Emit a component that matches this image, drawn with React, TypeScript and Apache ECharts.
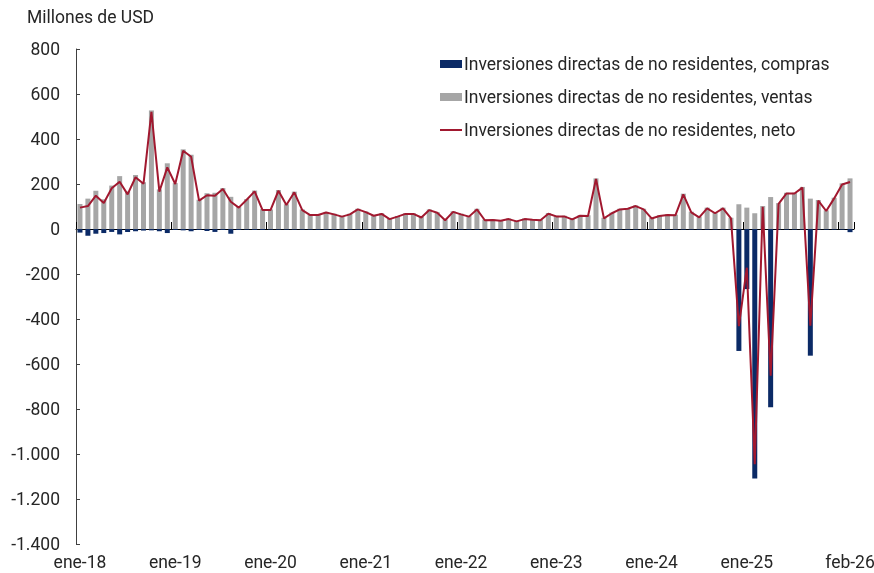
import React, { useEffect, useRef } from "react";
import * as echarts from "echarts";

const MONTHS = ["ene", "feb", "mar", "abr", "may", "jun", "jul", "ago", "sep", "oct", "nov", "dic"];
const START_YEAR = 18;
const N_MONTHS = 98; // ene-18 .. feb-26

const categories: string[] = [];
for (let i = 0; i < N_MONTHS; i++) {
  categories.push(MONTHS[i % 12] + "-" + (START_YEAR + Math.floor(i / 12)));
}

const compras = [
  -16, -30, -21, -18, -13, -24, -13, -10, -7, -6, -10, -18,
  -4, -6, -10, -4, -9, -13, -4, -21, -4, -3, -4, -4,
  -3, -3, -3, -3, -3, -3, -3, -3, -3, -3, -3, -3,
  -3, -3, -3, -3, -3, -3, -3, -3, -3, -3, -3, -3,
  -3, -3, -3, -3, -3, -3, -3, -3, -3, -3, -3, -3,
  -3, -3, -3, -3, -3, -3, -3, -3, -3, -3, -3, -3,
  -3, -3, -3, -3, -3, -3, -3, -3, -3, -3, -3, -542,
  -267, -1109, -3, -792, -3, -3, -3, -3, -563, -3, -3, -3,
  -3, -14,
];

const ventas = [
  111, 135, 170, 132, 193, 235, 167, 240, 208, 527, 176, 292,
  204, 354, 330, 130, 159, 161, 182, 143, 99, 133, 171, 88,
  87, 173, 110, 166, 87, 65, 65, 76, 68, 58, 68, 90,
  78, 62, 70, 47, 58, 70, 70, 54, 87, 75, 42, 79,
  68, 58, 90, 42, 43, 40, 47, 37, 47, 44, 42, 71,
  59, 59, 46, 62, 61, 225, 50, 73, 90, 93, 105, 90,
  50, 61, 65, 64, 157, 77, 55, 95, 73, 95, 50, 110,
  95, 70, 102, 142, 115, 161, 161, 187, 135, 129, 83, 139,
  203, 225,
];

const neto = [
  95, 102, 148, 116, 181, 210, 154, 230, 201, 521, 166, 274,
  200, 348, 321, 126, 150, 148, 178, 121, 95, 130, 167, 84,
  84, 170, 107, 163, 84, 62, 62, 73, 65, 55, 65, 87,
  75, 59, 67, 44, 55, 67, 67, 51, 84, 72, 39, 76,
  65, 55, 87, 39, 40, 37, 44, 34, 44, 41, 39, 68,
  56, 56, 43, 59, 58, 222, 47, 70, 87, 90, 102, 87,
  47, 58, 62, 61, 154, 74, 52, 92, 70, 92, 47, -432,
  -172, -1045, 99, -652, 112, 158, 158, 184, -430, 126, 80, 136,
  198, 209,
];

const SERIES_NAMES = [
  "Inversiones directas de no residentes, compras",
  "Inversiones directas de no residentes, ventas",
  "Inversiones directas de no residentes, neto",
];

const Y_MIN = -1400;
const Y_MAX = 800;
const Y_STEP = 200;

function fmt(v: number): string {
  const s = Math.abs(v).toString().replace(/\B(?=(\d{3})+(?!\d))/g, ".");
  return (v < 0 ? "-" : "") + s;
}

const LINE_ICON = "path://M0,0 L0.01,0 M0,3.1 L22,3.1 L22,4.9 L0,4.9 Z M22,8 L21.99,8";

export default function App() {
  const ref = useRef<HTMLDivElement>(null);
  useEffect(() => {
    if (!ref.current) return;
    const chart = echarts.init(ref.current, undefined, { renderer: "svg" });
    const font = "Roboto";
    const FS = 17.5;
    const LAST = N_MONTHS - 1;
    chart.setOption({
      animation: false,
      textStyle: { fontFamily: font },
      title: {
        text: "Millones de USD",
        left: 22,
        top: 3,
        textStyle: { fontFamily: font, fontSize: FS, fontWeight: "normal", color: "#262626" },
      },
      legend: {
        orient: "vertical",
        left: 435,
        top: 49,
        itemWidth: 22,
        itemHeight: 8,
        itemGap: 13,
        data: [
          { name: SERIES_NAMES[0], icon: "rect" },
          { name: SERIES_NAMES[1], icon: "rect" },
          { name: SERIES_NAMES[2], icon: LINE_ICON, itemStyle: { color: "#A1182F" } },
        ],
        textStyle: { fontFamily: font, fontSize: FS, color: "#262626", lineHeight: 20, padding: [0, 0, 0, -3] },
      },
      grid: { left: 76, right: 20, top: 49, bottom: 29, outerBoundsMode: "none", containLabel: false },
      xAxis: [
        {
          type: "category",
          position: "bottom",
          data: categories,
          boundaryGap: true,
          axisLine: { show: false, onZero: false },
          axisTick: { show: false },
          axisLabel: {
            interval: (i: number) => (i % 12 === 0 && LAST - i >= 6) || i === LAST,
            margin: 9,
            fontFamily: font,
            fontSize: FS,
            color: "#262626",
            hideOverlap: false,
          },
          splitLine: { show: false },
        },
        {
          type: "category",
          position: "bottom",
          data: categories,
          boundaryGap: true,
          axisLine: { show: true, onZero: true, lineStyle: { color: "#000000", width: 1 } },
          axisTick: {
            show: true,
            inside: true,
            length: 7,
            interval: (i: number) => i % 12 === 0,
            lineStyle: { color: "#000000", width: 1 },
          },
          axisLabel: { show: false },
          splitLine: { show: false },
        },
      ],
      yAxis: {
        type: "value",
        min: Y_MIN,
        max: Y_MAX,
        interval: Y_STEP,
        axisLine: { show: true, onZero: false, lineStyle: { color: "#404040" } },
        axisTick: { show: true, inside: true, length: 4, lineStyle: { color: "#404040" } },
        axisLabel: {
          margin: 16,
          fontFamily: font,
          fontSize: FS,
          color: "#262626",
          formatter: (v: number) => fmt(v),
        },
        splitLine: { show: false },
      },
      series: [
        {
          name: SERIES_NAMES[0],
          type: "bar",
          data: compras,
          barWidth: 5,
          barGap: "-100%",
          itemStyle: { color: "#0B2A66" },
          z: 2,
        },
        {
          name: SERIES_NAMES[1],
          type: "bar",
          data: ventas,
          barWidth: 5,
          barGap: "-100%",
          itemStyle: { color: "#A6A6A6" },
          z: 2,
        },
        {
          name: SERIES_NAMES[2],
          type: "line",
          data: neto,
          symbol: "none",
          showSymbol: false,
          lineStyle: { color: "#A1182F", width: 2 },
          itemStyle: { color: "#A1182F" },
          z: 5,
        },
      ],
    });
    return () => chart.dispose();
  }, []);
  return (
    <div
      ref={ref}
      style={{ position: "fixed", left: 0, top: 0, width: 874, height: 573 }}
    />
  );
}
